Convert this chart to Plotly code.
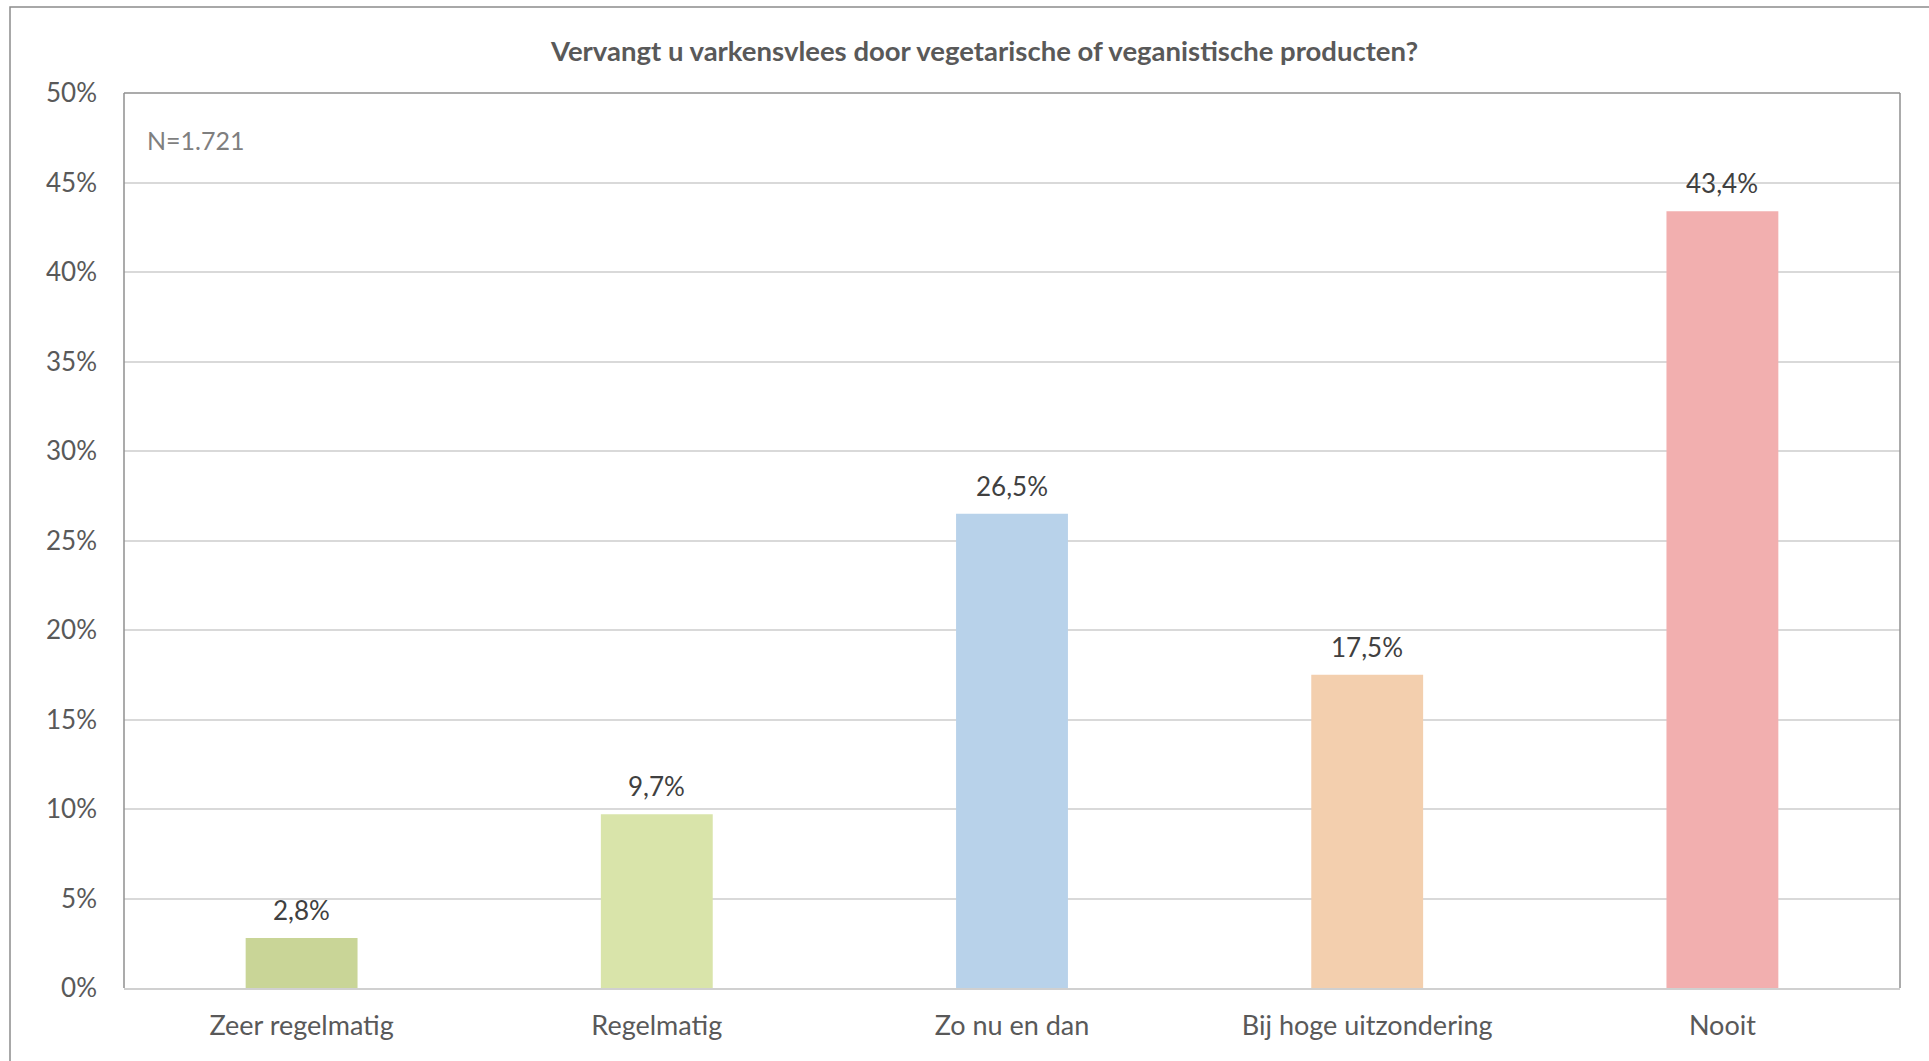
import plotly.graph_objects as go

categories = ["Zeer regelmatig", "Regelmatig", "Zo nu en dan", "Bij hoge uitzondering", "Nooit"]
values = [2.8, 9.7, 26.5, 17.5, 43.4]
bar_colors = ["#c9d597", "#d9e4aa", "#b8d2ea", "#f3cfae", "#f2afaf"]
y_ticks = [0, 5, 10, 15, 20, 25, 30, 35, 40, 45, 50]
y_tick_labels = [f"{t}%" for t in y_ticks]
title_text = "Vervangt u varkensvlees door vegetarische of veganistische producten?"
n_text = "N=1.721"

W, H = 1929, 1061
L, R, T, B = 124, 1900, 93, 988
FONT = "Lato"

fig = go.Figure()
fig.add_trace(go.Bar(
    x=categories, y=values, marker=dict(color=bar_colors, line=dict(width=0)),
    width=0.315, hoverinfo="skip",
))

pw, ph = R - L, B - T
def px(xp):
    return (xp - L) / pw
def py(yp):
    return (B - yp) / ph

annotations = []
for c, v in zip(categories, values):
    annotations.append(dict(
        x=c, y=v, xref="x", yref="y", text=f"{v:.1f}".replace(".", ",") + "%",
        showarrow=False, yanchor="bottom", yshift=10,
        font=dict(family=FONT, size=26, color="#404040"),
    ))
annotations.append(dict(
    x=px(145), y=py(140), xref="paper", yref="paper", text=n_text, showarrow=False,
    xanchor="left", yanchor="middle", font=dict(family=FONT, size=25, color="#7f7f7f"),
))
annotations.append(dict(
    x=px(984), y=py(50), xref="paper", yref="paper",
    text="<b>" + title_text + "</b>", showarrow=False, xanchor="center", yanchor="middle",
    font=dict(family=FONT, size=27.5, color="#595959"),
))

shapes = [
    # outer chart frame
    dict(type="rect", xref="paper", yref="paper", x0=px(10), x1=px(1945), y0=py(1075), y1=py(7),
         line=dict(color="#8c8c8c", width=1.5), fillcolor="rgba(0,0,0,0)", layer="below"),
    # plot area frame (left, top, right)
    dict(type="line", xref="paper", yref="paper", x0=0, x1=0, y0=0, y1=1, line=dict(color="#8f8f8f", width=1.5)),
    dict(type="line", xref="paper", yref="paper", x0=0, x1=1, y0=1, y1=1, line=dict(color="#8f8f8f", width=1.5)),
    dict(type="line", xref="paper", yref="paper", x0=1, x1=1, y0=0, y1=1, line=dict(color="#8f8f8f", width=1.5)),
]

fig.update_layout(
    width=W, height=H,
    margin=dict(l=L, r=W - R, t=T, b=H - B, pad=0),
    paper_bgcolor="white", plot_bgcolor="white",
    showlegend=False,
    annotations=annotations, shapes=shapes,
    font=dict(family=FONT, color="#595959"),
    xaxis=dict(
        showgrid=False, showline=True, linecolor="#d0d0d0", linewidth=2,
        tickfont=dict(family=FONT, size=27, color="#595959"), ticks="",
        ticklabelstandoff=13, zeroline=False,
    ),
    yaxis=dict(
        range=[0, 50], tickvals=y_ticks, ticktext=y_tick_labels,
        showgrid=True, gridcolor="#d9d9d9", gridwidth=1.5, zeroline=False,
        tickfont=dict(family=FONT, size=26, color="#595959"), ticks="",
        ticklabelstandoff=26, showline=False,
    ),
)

fig.write_html("out.html", config={"displayModeBar": False},
               post_script="document.body.style.margin='0';document.body.style.overflow='hidden';")
